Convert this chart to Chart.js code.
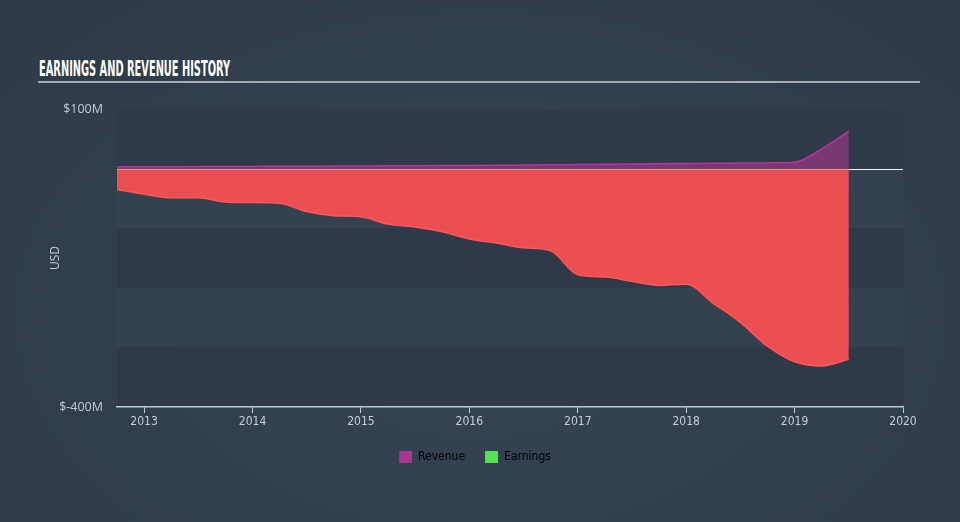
<!DOCTYPE html>
<html>
<head>
<meta charset="utf-8">
<script src="https://cdn.jsdelivr.net/npm/chart.js@4"></script>
<style>
  html, body { margin: 0; padding: 0; }
  body {
    width: 960px; height: 522px; overflow: hidden; position: relative;
    background: radial-gradient(ellipse at 50% 60%, #364453 0%, #313e4d 60%, #2d3947 100%);
  }
  #title {
    position: absolute; left: 39px; top: 57px;
    font-family: "DejaVu Sans Condensed", "DejaVu Sans", sans-serif;
    font-weight: bold; font-size: 21px; line-height: 24px;
    color: #ffffff; white-space: nowrap; transform-origin: 0 0;
  }
  #rule {
    position: absolute; left: 38px; top: 81px; width: 882px; height: 2px;
    background: #a3aab2;
  }
  #wrap { position: absolute; left: 0; top: 0; width: 960px; height: 522px; }
</style>
</head>
<body>
<div id="title">EARNINGS AND REVENUE HISTORY</div>
<div id="rule"></div>
<div id="wrap"><canvas id="chart" width="960" height="522"></canvas></div>
<script>
// quarterly points, decimal years
const quarters = [
  2012.75, 2013.0, 2013.25, 2013.5, 2013.75, 2014.0, 2014.25, 2014.5, 2014.75,
  2015.0, 2015.25, 2015.5, 2015.75, 2016.0, 2016.25, 2016.5, 2016.75,
  2017.0, 2017.25, 2017.5, 2017.75, 2018.0, 2018.25, 2018.5, 2018.75,
  2019.0, 2019.25, 2019.5
];
// USD millions
const revenue = [
  3, 3, 3.2, 3.4, 3.5, 3.7, 3.9, 4, 4.2,
  4.4, 4.6, 4.8, 5, 5.2, 5.5, 5.9, 6.3,
  6.8, 7.2, 7.6, 8, 8.4, 8.8, 9.2, 9.6,
  10.5, 33, 63
];
const earnings = [
  -35, -43, -49, -49, -56, -57, -58, -72, -79,
  -81, -93, -98, -106, -118, -125, -133, -138,
  -178, -182, -189, -196, -194, -226, -258, -298,
  -324, -331, -320
];
const yearTicks = [2013, 2014, 2015, 2016, 2017, 2018, 2019, 2020];
const yTickLabels = { '100': '$100M', '-400': '$-400M' };

// squeeze the title to its width in the reference
const t = document.getElementById('title');
t.style.transform = 'scaleX(' + (191 / t.offsetWidth) + ')';

const condensed = '"DejaVu Sans Condensed", "Liberation Sans Narrow", sans-serif';

const bandsPlugin = {
  id: 'bands',
  beforeDraw(chart) {
    const { ctx, chartArea: a, scales: { y } } = chart;
    const stops = [100, 0, -100, -200, -300, -400];
    ctx.save();
    for (let i = 0; i < stops.length - 1; i++) {
      const top = y.getPixelForValue(stops[i]);
      const bot = y.getPixelForValue(stops[i + 1]);
      ctx.fillStyle = i % 2 === 0 ? '#2e3a49' : '#344151';
      ctx.fillRect(a.left, top, a.right - a.left, bot - top);
    }
    ctx.restore();
  },
  beforeDatasetsDraw(chart) {
    const { ctx, chartArea: a, scales: { y } } = chart;
    const y0 = Math.round(y.getPixelForValue(0)) + 0.5;
    ctx.save();
    ctx.strokeStyle = '#f2f2f2';
    ctx.lineWidth = 1;
    ctx.beginPath();
    ctx.moveTo(a.left, y0);
    ctx.lineTo(a.right, y0);
    ctx.stroke();
    ctx.restore();
  },
  afterDatasetsDraw(chart) {
    const { ctx, chartArea: a, scales: { x, y } } = chart;
    const y0 = Math.round(y.getPixelForValue(0)) + 0.5;
    const xEnd = x.getPixelForValue(quarters[quarters.length - 1]);
    ctx.save();
    ctx.strokeStyle = 'rgba(190,190,190,0.7)';
    ctx.lineWidth = 1;
    ctx.beginPath();
    ctx.moveTo(a.left, y0);
    ctx.lineTo(xEnd, y0);
    ctx.stroke();
    ctx.restore();
  }
};

new Chart(document.getElementById('chart'), {
  type: 'line',
  data: {
    datasets: [
      {
        label: 'Revenue',
        data: quarters.map((q, i) => ({ x: q, y: revenue[i] })),
        borderColor: '#b3379c',
        backgroundColor: 'rgba(125, 55, 118, 0.95)',
        borderWidth: 1.5,
        fill: 'origin',
        pointRadius: 0,
        cubicInterpolationMode: 'monotone'
      },
      {
        label: 'Earnings',
        data: quarters.map((q, i) => ({ x: q, y: earnings[i] })),
        borderColor: '#ff5757',
        backgroundColor: '#eb4f51',
        borderWidth: 1.5,
        fill: 'origin',
        pointRadius: 0,
        cubicInterpolationMode: 'monotone'
      }
    ]
  },
  options: {
    responsive: false,
    animation: false,
    layout: { padding: { top: 109, right: 57, bottom: 49, left: 47 } },
    scales: {
      x: {
        type: 'linear',
        min: 2012.75,
        max: 2020,
        afterBuildTicks: s => { s.ticks = yearTicks.map(v => ({ value: v })); },
        afterFit: s => { s.height = 24; },
        grid: { display: true, drawOnChartArea: false, drawTicks: true, tickLength: 6, color: '#c3ccd6' },
        border: { display: true, color: '#c3ccd6', width: 1.5 },
        ticks: {
          color: '#c9ced4',
          padding: 2,
          maxRotation: 0,
          font: { family: condensed, size: 12 },
          callback: v => String(v)
        }
      },
      y: {
        min: -400,
        max: 100,
        afterBuildTicks: s => { s.ticks = [100, -400].map(v => ({ value: v })); },
        afterFit: s => { s.width = 70; },
        grid: { display: false, drawTicks: false },
        border: { display: false },
        ticks: {
          color: '#c5cbd2',
          padding: 14,
          font: { family: '"Open Sans", sans-serif', size: 12.5 },
          callback: v => yTickLabels[String(v)] || ''
        },
        title: {
          display: true,
          text: 'USD',
          color: '#c5cbd2',
          padding: { top: 1, bottom: 0 },
          font: { family: '"Open Sans", sans-serif', size: 12 }
        }
      }
    },
    plugins: {
      tooltip: { enabled: false },
      legend: {
        position: 'bottom',
        labels: {
          boxWidth: 13,
          boxHeight: 12,
          padding: 20,
          color: '#e2e4e6',
          font: { family: condensed, size: 12 },
          generateLabels: () => [
            { text: 'Revenue', fillStyle: '#a8358f', strokeStyle: '#a8358f', lineWidth: 0, hidden: false, datasetIndex: 0 },
            { text: 'Earnings', fillStyle: '#52e352', strokeStyle: '#52e352', lineWidth: 0, hidden: false, datasetIndex: 1 }
          ]
        }
      }
    }
  },
  plugins: [bandsPlugin]
});
</script>
</body>
</html>
